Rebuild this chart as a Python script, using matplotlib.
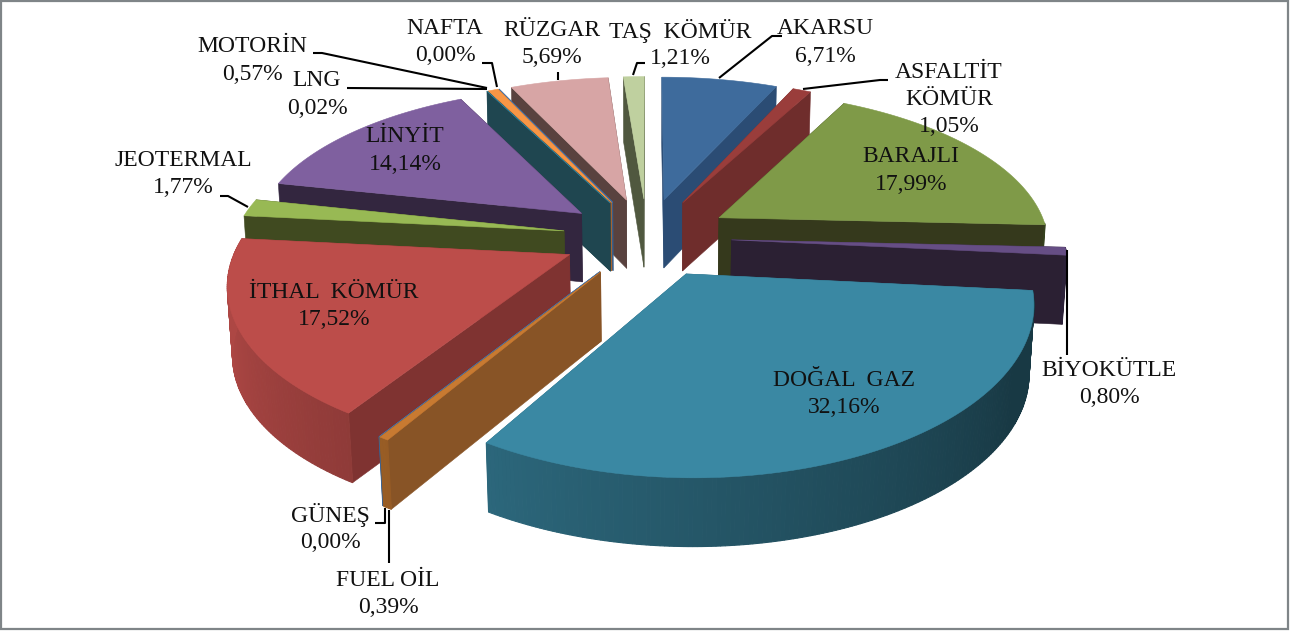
import numpy as np
import matplotlib
matplotlib.use("Agg")
import matplotlib.pyplot as plt
from matplotlib.colors import to_rgb
from matplotlib.patches import Polygon, Rectangle

# dilimler, saat yonunde
names = ["AKARSU", "ASFALTİT\nKÖMÜR", "BARAJLI", "BİYOKÜTLE", "DOĞAL  GAZ", "FUEL OİL", "GÜNEŞ",
         "İTHAL  KÖMÜR", "JEOTERMAL", "LİNYİT", "LNG", "MOTORİN", "NAFTA", "RÜZGAR", "TAŞ  KÖMÜR"]
values = [6.71, 1.05, 17.99, 0.80, 32.16, 0.39, 0.00, 17.52, 1.77, 14.14, 0.02, 0.57, 0.00, 5.69, 1.21]
top_colors = ["#3e6b9c", "#9a3d3b", "#7f9a48", "#664e85", "#3a88a3", "#c87a31", "#4f81bd", "#bc4d4a",
              "#98b954", "#7f609f", "#2c7c94", "#f79646", "#4f81bd", "#d7a5a5", "#bfd09f"]
wall_colors = ["#2b4c74", "#6f2d2c", "#35391c", "#2b2033", "#2a6478", "#885426", "#3a5f8c", "#7f3331",
               "#404a20", "#33263f", "#1f4650", "#a86430", "#3a5f8c", "#59423f", "#50583f"]

# etiket merkezleri (piksel)
label_x = [825, 949, 911, 1109, 844, 388, 330, 334, 183, 405, 317, 252, 445, 552, 680]
label_y = [29, 72, 157, 370, 380, 580, 515, 292, 160, 137, 81, 47, 28, 30, 31]

leaders = [
    [(645, 63), (637, 63), (633, 75)],
    [(719, 78), (772, 36), (782, 36)],
    [(803, 89), (880, 80), (888, 80)],
    [(1067, 250), (1067, 355)],
    [(389, 510), (389, 563)],
    [(385, 508), (385, 523), (375, 523)],
    [(220, 196), (228, 196), (248, 207)],
    [(347, 88), (487, 89)],
    [(313, 53), (322, 53), (487, 88)],
    [(482, 63), (492, 63), (497, 87)],
    [(558, 72), (558, 80)],
]

# perspektif ayarlari
cx, cy = 647, 237
rx, ry = 330, 155
k, kx, m, mx = 0.17, 0.155, 0.06, 0.012
dz = 73
explode = 0.256


def project(x, y, d):
    sy = 1 / (1 + k * y + m * d)
    sx = 1 / (1 + kx * y + mx * d)
    return cx + rx * x * sx, cy - ry * y * sy + dz * d * sy


def shade(color, f):
    return tuple(min(1, c * f) for c in to_rgb(color))


def wall_shade(theta):
    return np.clip(0.42 + (theta - 120) / 130 * 0.48, 0.42, 0.92)


fig = plt.figure(figsize=(12.9, 6.32), dpi=100)
ax = fig.add_axes([0, 0, 1, 1])
ax.set_xlim(0, 1290)
ax.set_ylim(632, 0)
ax.axis("off")
ax.add_patch(Rectangle((1, 1), 1287, 628, fill=False, ec="#7f8588", lw=1.6))

total = sum(values)
fracs = np.array(values) / total * 360
starts = np.concatenate([[0], np.cumsum(fracs)[:-1]])
mids = starts + fracs / 2

# arkadan one dogru ciz
order = np.argsort(-np.cos(np.radians(mids)))
for i in order:
    t0, t1 = starts[i], starts[i] + fracs[i]
    mid = np.radians(mids[i])
    ox, oy = explode * np.sin(mid), explode * np.cos(mid)
    th = np.radians(np.linspace(t0, t1, max(2, int(fracs[i] * 1.5) + 2)))
    xs = ox + np.sin(th)
    ys = oy + np.cos(th)

    # radyal yuzler
    faces = []
    for a in [0, -1]:
        faces.append((ys[a], [project(ox, oy, 0), project(xs[a], ys[a], 0),
                              project(xs[a], ys[a], 1), project(ox, oy, 1)]))
    for _, pts in sorted(faces, key=lambda f: -f[0]):
        ax.add_patch(Polygon(pts, closed=True, fc=wall_colors[i], ec=wall_colors[i], lw=0.4))

    # dis yuzey
    for j in range(len(th) - 1):
        pts = [project(xs[j], ys[j], 0), project(xs[j + 1], ys[j + 1], 0),
               project(xs[j + 1], ys[j + 1], 1), project(xs[j], ys[j], 1)]
        if ys[j] < 0.1:
            c = shade(top_colors[i], wall_shade(np.degrees(th[j])))
            ax.add_patch(Polygon(pts, closed=True, fc=c, ec=c, lw=0.8))

    # ust yuzey
    top = [project(ox, oy, 0)] + [project(a, b, 0) for a, b in zip(xs, ys)]
    ax.add_patch(Polygon(top, closed=True, fc=top_colors[i], ec=top_colors[i], lw=0.4))

for line in leaders:
    ax.plot([p[0] for p in line], [p[1] for p in line], color="black", lw=1.5, solid_capstyle="butt")

for name, val, x, y in zip(names, values, label_x, label_y):
    lines = name.split("\n") + [f"{val:.2f}%".replace(".", ",")]
    for n, txt in enumerate(lines):
        ax.text(x, y + n * 27.5, txt, ha="center", va="center", fontsize=17,
                family="Liberation Serif", color="#111111")

fig.savefig("out.png", dpi=100)
